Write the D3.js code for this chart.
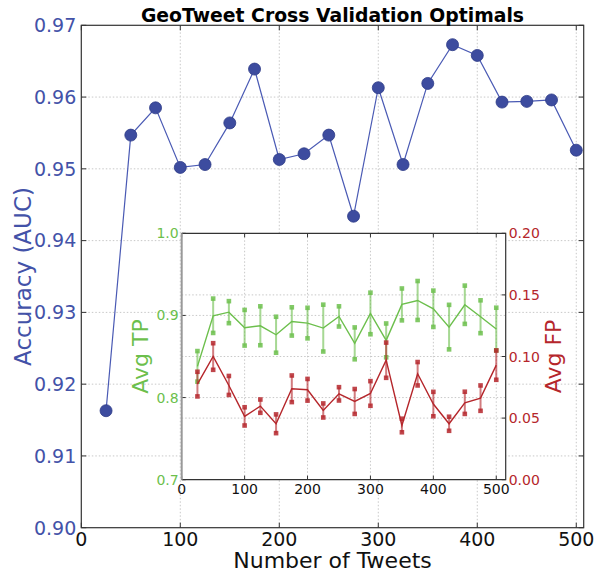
<!DOCTYPE html>
<html>
<head>
<meta charset="utf-8">
<script src="https://cdn.jsdelivr.net/npm/d3@7"></script>
<style>
  body { margin: 0; background: #fff; }
  svg { font-family: "DejaVu Sans", sans-serif; }
</style>
</head>
<body>
<script>
/*** DATA ***/
const tweets = [25, 50, 75, 100, 125, 150, 175, 200, 225, 250, 275, 300, 325, 350, 375, 400, 425, 450, 475, 500];
const auc = [0.9163, 0.9547, 0.9585, 0.9502, 0.9506, 0.9564, 0.9639, 0.9513, 0.9521, 0.9547,
             0.9434, 0.9613, 0.9506, 0.9619, 0.9673, 0.9658, 0.9593, 0.9594, 0.9596, 0.9526];
const tpMean = [0.838, 0.8996, 0.904, 0.885, 0.8874, 0.8765, 0.8927, 0.8907, 0.8846, 0.8988,
                0.866, 0.9024, 0.8696, 0.9134, 0.9182, 0.9081, 0.8858, 0.913, 0.8984, 0.8834];
const tpErr = [0.0186, 0.0209, 0.0134, 0.0217, 0.0237, 0.0219, 0.0172, 0.0186, 0.0285, 0.0123,
               0.0194, 0.0253, 0.0206, 0.0194, 0.0237, 0.0221, 0.0271, 0.0233, 0.0200, 0.0260];
const fpMean = [0.0776, 0.1000, 0.0765, 0.0514, 0.0597, 0.0454, 0.0738, 0.0730, 0.0562, 0.0697,
                0.0635, 0.0700, 0.0970, 0.0440, 0.0860, 0.0614, 0.0454, 0.0624, 0.0662, 0.0930];
const fpErr = [0.0100, 0.0108, 0.0077, 0.0074, 0.0054, 0.0076, 0.0108, 0.0088, 0.0057, 0.0054,
               0.0101, 0.0100, 0.0143, 0.0055, 0.0095, 0.0099, 0.0057, 0.0090, 0.0103, 0.0119];
const aucTicks = [0.90, 0.91, 0.92, 0.93, 0.94, 0.95, 0.96, 0.97];
const xTicks = [0, 100, 200, 300, 400, 500];
const tpTicks = [0.7, 0.8, 0.9, 1.0];
const fpTicks = [0.00, 0.05, 0.10, 0.15, 0.20];

/*** COLOURS ***/
const blue = "#4352a8", green = "#6cbf4c", red = "#b5262b", axisCol = "#333";

/*** SVG ***/
const W = 594, H = 573;
const svg = d3.select("body").append("svg").attr("width", W).attr("height", H);

/* main axes */
const main = { left: 81.3, top: 25.3, right: 583.7, bottom: 527.7 };
const x = d3.scaleLinear().domain([0, 507.5]).range([main.left, main.right]);
const y = d3.scaleLinear().domain([0.90, 0.97]).range([main.bottom, main.top]);

/* grid */
const grid = svg.append("g").attr("stroke", "#c8c8c8").attr("stroke-dasharray", "1.5,2").attr("stroke-width", 1);
xTicks.slice(1).forEach(t => grid.append("line").attr("x1", x(t)).attr("x2", x(t)).attr("y1", main.top).attr("y2", main.bottom));
aucTicks.slice(1, -1).forEach(t => grid.append("line").attr("x1", main.left).attr("x2", main.right).attr("y1", y(t)).attr("y2", y(t)));

/* ticks inward */
const tk = svg.append("g").attr("stroke", axisCol).attr("stroke-width", 1);
xTicks.forEach(t => {
  tk.append("line").attr("x1", x(t)).attr("x2", x(t)).attr("y1", main.bottom).attr("y2", main.bottom - 5);
  tk.append("line").attr("x1", x(t)).attr("x2", x(t)).attr("y1", main.top).attr("y2", main.top + 5);
});
aucTicks.forEach(t => {
  tk.append("line").attr("x1", main.left).attr("x2", main.left + 5).attr("y1", y(t)).attr("y2", y(t));
  tk.append("line").attr("x1", main.right).attr("x2", main.right - 5).attr("y1", y(t)).attr("y2", y(t));
});

/* AUC line + points */
const pts = tweets.map((t, i) => [t, auc[i]]);
svg.append("path")
  .attr("d", d3.line().x(d => x(d[0])).y(d => y(d[1]))(pts))
  .attr("fill", "none").attr("stroke", "#4a5ab4").attr("stroke-width", 1.2);
svg.selectAll(".dot").data(pts).enter().append("circle")
  .attr("class", "dot").attr("r", 6)
  .attr("cx", d => x(d[0])).attr("cy", d => y(d[1]))
  .attr("fill", "#3d4c9f").attr("stroke", "#2c3a86").attr("stroke-width", 0.8);

/* frame */
svg.append("rect").attr("x", main.left).attr("y", main.top)
  .attr("width", main.right - main.left).attr("height", main.bottom - main.top)
  .attr("fill", "none").attr("stroke", axisCol).attr("stroke-width", 1.2);

/* tick labels */
svg.selectAll(".ylab").data(aucTicks).enter().append("text")
  .attr("x", main.left - 5).attr("y", d => y(d)).attr("dy", "0.36em")
  .attr("text-anchor", "end").attr("fill", blue).style("font-size", "19px")
  .text(d => d.toFixed(2));
svg.selectAll(".xlab").data(xTicks).enter().append("text")
  .attr("x", d => x(d)).attr("y", main.bottom + 18)
  .attr("text-anchor", "middle").attr("fill", "#111").style("font-size", "19px")
  .text(d => d);

/* axis titles */
svg.append("text").attr("transform", "translate(31," + ((main.top + main.bottom) / 2) + ") rotate(-90)")
  .attr("text-anchor", "middle").attr("fill", blue).style("font-size", "23px").text("Accuracy (AUC)");
svg.append("text").attr("x", (main.left + main.right) / 2).attr("y", 568)
  .attr("text-anchor", "middle").attr("fill", "#111").style("font-size", "22px").text("Number of Tweets");
svg.append("text").attr("x", (main.left + main.right) / 2).attr("y", 22)
  .attr("text-anchor", "middle").attr("fill", "#000").style("font-size", "18.8px").style("font-weight", "bold")
  .text("GeoTweet Cross Validation Optimals");

/*** INSET ***/
const ins = { left: 181.7, top: 233.3, right: 505.7, bottom: 479.7 };
const xi = d3.scaleLinear().domain([0, 515]).range([ins.left, ins.right]);
const yTP = d3.scaleLinear().domain([0.7, 1.0]).range([ins.bottom, ins.top]);
const yFP = d3.scaleLinear().domain([0, 0.20]).range([ins.bottom, ins.top]);

svg.append("rect").attr("x", ins.left).attr("y", ins.top)
  .attr("width", ins.right - ins.left).attr("height", ins.bottom - ins.top).attr("fill", "#fff");

const igrid = svg.append("g").attr("stroke", "#c8c8c8").attr("stroke-dasharray", "1.5,2").attr("stroke-width", 1);
xTicks.slice(1).forEach(t => igrid.append("line").attr("x1", xi(t)).attr("x2", xi(t)).attr("y1", ins.top).attr("y2", ins.bottom));
[0.8, 0.9].forEach(t => igrid.append("line").attr("x1", ins.left).attr("x2", ins.right).attr("y1", yTP(t)).attr("y2", yTP(t)));
[0.05, 0.10, 0.15].forEach(t => igrid.append("line").attr("x1", ins.left).attr("x2", ins.right).attr("y1", yFP(t)).attr("y2", yFP(t)));

const itk = svg.append("g").attr("stroke", axisCol).attr("stroke-width", 1);
xTicks.forEach(t => {
  itk.append("line").attr("x1", xi(t)).attr("x2", xi(t)).attr("y1", ins.bottom).attr("y2", ins.bottom - 4);
  itk.append("line").attr("x1", xi(t)).attr("x2", xi(t)).attr("y1", ins.top).attr("y2", ins.top + 4);
});
tpTicks.forEach(t => itk.append("line").attr("x1", ins.left).attr("x2", ins.left + 4).attr("y1", yTP(t)).attr("y2", yTP(t)));
fpTicks.forEach(t => itk.append("line").attr("x1", ins.right).attr("x2", ins.right - 4).attr("y1", yFP(t)).attr("y2", yFP(t)));

/* errorbar series */
function series(mean, err, ys, col) {
  const g = svg.append("g");
  const d = tweets.map((t, i) => ({ t: t, m: mean[i], e: err[i] }));
  g.selectAll(".eb").data(d).enter().append("line")
    .attr("x1", v => xi(v.t)).attr("x2", v => xi(v.t))
    .attr("y1", v => ys(v.m - v.e)).attr("y2", v => ys(v.m + v.e))
    .attr("stroke", col).attr("stroke-width", 2).attr("opacity", 0.6);
  g.append("path")
    .attr("d", d3.line().x(v => xi(v.t)).y(v => ys(v.m))(d))
    .attr("fill", "none").attr("stroke", col).attr("stroke-width", 1.4);
  const caps = [];
  d.forEach(v => { caps.push([v.t, v.m - v.e]); caps.push([v.t, v.m + v.e]); });
  g.selectAll(".cap").data(caps).enter().append("rect")
    .attr("x", c => xi(c[0]) - 2.3).attr("y", c => ys(c[1]) - 2.3)
    .attr("width", 4.6).attr("height", 4.6)
    .attr("fill", col).attr("opacity", 0.85);
}
series(tpMean, tpErr, yTP, green);
series(fpMean, fpErr, yFP, red);

/* inset frame */
svg.append("path")
  .attr("d", `M${ins.left},${ins.top}H${ins.right}V${ins.bottom}H${ins.left}`)
  .attr("fill", "none").attr("stroke", axisCol).attr("stroke-width", 1.2);
svg.append("line").attr("x1", ins.left).attr("x2", ins.left).attr("y1", ins.top).attr("y2", ins.bottom)
  .attr("stroke", "#999").attr("stroke-width", 2);

/* inset labels */
svg.selectAll(".tpl").data(tpTicks).enter().append("text")
  .attr("x", ins.left - 3).attr("y", d => yTP(d)).attr("dy", "0.36em")
  .attr("text-anchor", "end").attr("fill", green).style("font-size", "14px")
  .text(d => d.toFixed(1));
svg.selectAll(".fpl").data(fpTicks).enter().append("text")
  .attr("x", ins.right + 3).attr("y", d => yFP(d)).attr("dy", "0.36em")
  .attr("text-anchor", "start").attr("fill", red).style("font-size", "14px")
  .text(d => d.toFixed(2));
svg.selectAll(".xil").data(xTicks).enter().append("text")
  .attr("x", d => xi(d)).attr("y", ins.bottom + 14)
  .attr("text-anchor", "middle").attr("fill", "#111").style("font-size", "14px")
  .text(d => d);
svg.append("text").attr("transform", "translate(148," + ((ins.top + ins.bottom) / 2) + ") rotate(-90)")
  .attr("text-anchor", "middle").attr("fill", green).style("font-size", "22px").text("Avg TP");
svg.append("text").attr("transform", "translate(561," + ((ins.top + ins.bottom) / 2) + ") rotate(-90)")
  .attr("text-anchor", "middle").attr("fill", red).style("font-size", "22px").text("Avg FP");
</script>
</body>
</html>
